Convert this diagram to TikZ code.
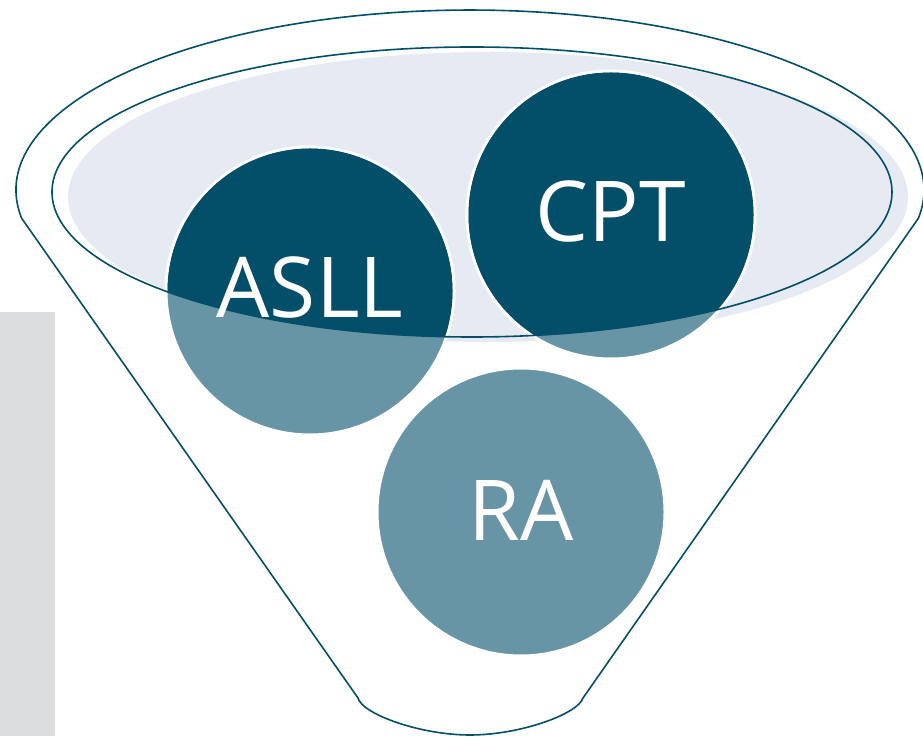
\documentclass[tikz,border=0pt]{standalone}
\usepackage{fontspec}
\setsansfont{Open Sans}
\usetikzlibrary{calc}
\definecolor{deepteal}{HTML}{034E68}
\definecolor{paleteal}{HTML}{6795A6}
\definecolor{bowlfill}{HTML}{E6EAF2}
\definecolor{sidegray}{HTML}{DCDDDF}

\begin{document}
\begin{tikzpicture}[x=1pt, y=1pt,
    bubble/.style={circle, fill=paleteal, draw=white, line width=3pt, inner sep=0pt, minimum size=288pt},
    tag/.style={text=white, font=\sffamily\fontsize{84}{84}\selectfont, inner sep=0pt},
    rim/.style={draw=deepteal, line width=1.6pt}]
  \useasboundingbox (0,0) rectangle (923,736);

  % grey side bar and the bowl
  \fill[sidegray] (0,0) rectangle (55,424);
  \fill[bowlfill] (488,539) ellipse [x radius=420, y radius=145];

  \node[bubble] (asll) at (310,445) {};
  \node[bubble] (cpt) at (611,521) {};
  \node[bubble] (ra) at (521,224) {};

  % dark part inside the bowl
  \begin{scope}
    \clip (472,544) ellipse [x radius=420, y radius=145];
    \foreach \c in {asll, cpt, ra}
      \fill[deepteal] (\c.center) circle [radius=142.5];
  \end{scope}

  \draw[rim] (472,544) ellipse [x radius=420, y radius=145];
  \draw[rim] (21.6,517.8) arc [start angle=189, end angle=-9, x radius=454, y radius=180]
    -- (583,38) .. controls (578,22) and (520,1) .. (470,1)
    .. controls (420,1) and (362,22) .. (358,38) -- cycle;

  \node[tag] (asll-label) at ([yshift=3pt]asll.center) {ASLL};
  \node[tag] (cpt-label) at ([yshift=3pt]cpt.center) {CPT};
  \node[tag] (ra-label) at ([yshift=2pt]ra.center) {RA};
\end{tikzpicture}
\end{document}
